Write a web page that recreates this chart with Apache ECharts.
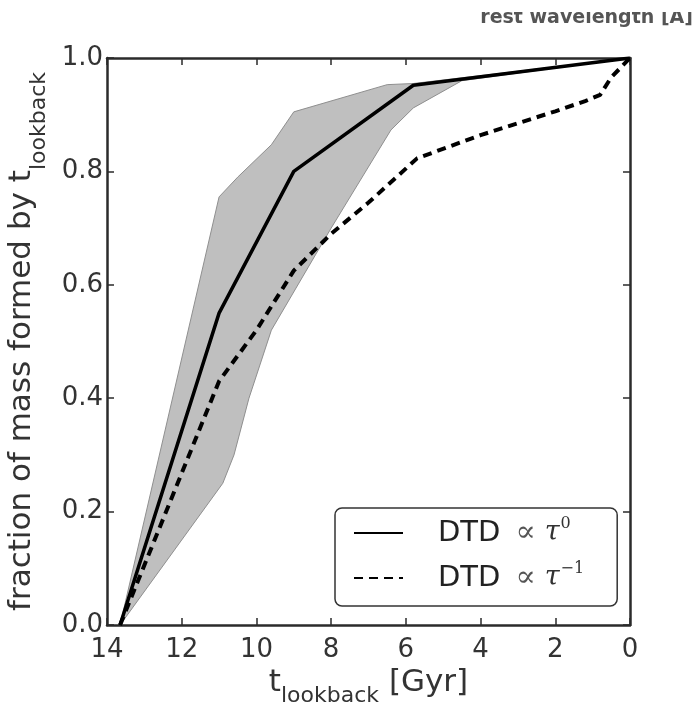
<!DOCTYPE html>
<html>
<head>
<meta charset="utf-8">
<script src="https://cdn.jsdelivr.net/npm/echarts@6/dist/echarts.min.js"></script>
<style>
html,body{margin:0;padding:0;background:#fff;}
#chart{width:698px;height:705px;}
</style>
</head>
<body>
<div id="chart"></div>
<script>
// ---- data ----
const tSolid = [13.65, 11, 9, 5.8, 0];
const fSolid = [0, 0.55, 0.80, 0.952, 1.0];

const tDashed = [13.65, 11, 10, 9, 8, 7, 5.7, 4, 2, 1.2, 0.8, 0.5, 0];
const fDashed = [0, 0.43, 0.52, 0.625, 0.69, 0.745, 0.823, 0.864, 0.906, 0.924, 0.935, 0.966, 1.0];

const tBandUpper = [13.65, 11, 10.5, 9.6, 9, 6.5, 5.8, 0];
const fBandUpper = [0, 0.755, 0.79, 0.847, 0.905, 0.953, 0.955, 1.0];

const tBandLower = [13.65, 10.9, 10.6, 10.2, 9.6, 8.0, 6.4, 5.8, 4.5, 0];
const fBandLower = [0, 0.25, 0.30, 0.40, 0.52, 0.70, 0.873, 0.912, 0.96, 1.0];

const seriesNames = ['DTD \u221D \u03C4^0', 'DTD \u221D \u03C4^\u22121'];
const seriesExponents = ['0', '\u22121'];

const zip = (a, b) => a.map((v, i) => [v, b[i]]);

const chart = echarts.init(document.getElementById('chart'), null, {renderer: 'canvas'});
const frame = '#2b2b2b';
const txt = '#333';

const axisCommon = {
  axisLine: {show: true, onZero: false, lineStyle: {color: frame, width: 2.5}},
  axisTick: {show: true, inside: true, length: 7, lineStyle: {color: frame, width: 1.5}},
  splitLine: {show: false}
};

const makeRich = drop => ({
  m: {fontSize: 31, color: txt, fontFamily: 'DejaVu Sans', lineHeight: 34, verticalAlign: 'top'},
  s: {fontSize: 22, color: txt, fontFamily: 'DejaVu Sans', lineHeight: 22, padding: [drop, 0, 0, 0], verticalAlign: 'top'}
});

const option = {
  animation: false,
  backgroundColor: '#fff',
  textStyle: {fontFamily: 'DejaVu Sans'},
  grid: {left: 107, right: 68, top: 58, bottom: 80, containLabel: false, outerBoundsMode: 'none'},
  xAxis: [
    Object.assign({
      type: 'value', min: 0, max: 14, interval: 2, inverse: true, position: 'bottom',
      axisLabel: {fontSize: 26, color: txt, margin: 12, formatter: v => String(v)},
      name: '{m|t}{s|lookback}{m| [Gyr]}',
      nameLocation: 'middle', nameGap: 41,
      nameTextStyle: {rich: makeRich(17)}
    }, axisCommon),
    Object.assign({
      type: 'value', min: 0, max: 14, interval: 2, inverse: true, position: 'top',
      axisLabel: {show: false}
    }, axisCommon)
  ],
  yAxis: [
    Object.assign({
      type: 'value', min: 0, max: 1, interval: 0.2, position: 'left',
      axisLabel: {fontSize: 26, color: txt, margin: 4, formatter: v => v.toFixed(1)},
      name: '{m|fraction of mass formed by t}{s|lookback}',
      nameLocation: 'middle', nameGap: 54,
      nameTextStyle: {rich: makeRich(22)}
    }, axisCommon),
    Object.assign({
      type: 'value', min: 0, max: 1, interval: 0.2, position: 'right',
      axisLabel: {show: false}
    }, axisCommon)
  ],
  legend: {
    data: seriesNames,
    orient: 'vertical',
    left: 335, top: 508,
    itemWidth: 49, itemHeight: 20, itemGap: 13,
    padding: [8, 33, 13, 18],
    borderColor: '#333', borderWidth: 1.5, borderRadius: 7,
    backgroundColor: '#fff',
    selectedMode: false,
    itemStyle: {color: 'rgba(0,0,0,0)', borderColor: 'rgba(0,0,0,0)', borderWidth: 0, opacity: 0},
    formatter: name => {
      const i = seriesNames.indexOf(name);
      return '{a|DTD}{b|\u221D}{c|\u03C4}{d|' + seriesExponents[i] + '}';
    },
    textStyle: {
      padding: [0, 0, 0, 30],
      rich: {
        a: {fontSize: 29, color: '#222', fontFamily: 'DejaVu Sans', lineHeight: 34},
        b: {fontSize: 30, color: '#555', fontFamily: 'DejaVu Serif', lineHeight: 34, padding: [0, 9, 0, 15]},
        c: {fontSize: 27, color: '#333', fontFamily: 'DejaVu Serif', fontStyle: 'italic', lineHeight: 34},
        d: {fontSize: 16, color: '#333', fontFamily: 'DejaVu Serif', lineHeight: 16, verticalAlign: 'top', padding: [0, 0, 0, 1]}
      }
    }
  },
  graphic: [
    {
      type: 'text', right: 5, top: 9, z: 10,
      style: {text: 'rest wavelength [\u00C5]', fontSize: 19, fontWeight: 'bold', fill: '#555', fontFamily: 'DejaVu Sans'}
    },
    {
      type: 'rect', left: 430, top: 0, z: 20,
      shape: {width: 268, height: 12},
      style: {fill: '#fff'}
    }
  ],
  series: [
    {
      type: 'custom', name: 'band', silent: true, z: 1,
      xAxisIndex: 0, yAxisIndex: 0,
      data: [[tBandUpper[0], fBandUpper[0]]],
      renderItem: (params, api) => {
        const pts = [];
        for (let i = 0; i < tBandUpper.length; i++) pts.push(api.coord([tBandUpper[i], fBandUpper[i]]));
        for (let i = tBandLower.length - 1; i >= 0; i--) pts.push(api.coord([tBandLower[i], fBandLower[i]]));
        return {type: 'polygon', shape: {points: pts}, style: {fill: '#bfbfbf', stroke: '#8f8f8f', lineWidth: 1}};
      }
    },
    {
      type: 'line', name: seriesNames[0], z: 3,
      data: zip(tSolid, fSolid), symbol: 'none', showSymbol: false,
      lineStyle: {color: '#000', width: 3.5},
      itemStyle: {color: '#000'}
    },
    {
      type: 'line', name: seriesNames[1], z: 3,
      data: zip(tDashed, fDashed), symbol: 'none', showSymbol: false,
      lineStyle: {color: '#000', width: 4, type: [9, 6]},
      itemStyle: {color: '#000'}
    }
  ]
};
chart.setOption(option);
</script>
</body>
</html>
